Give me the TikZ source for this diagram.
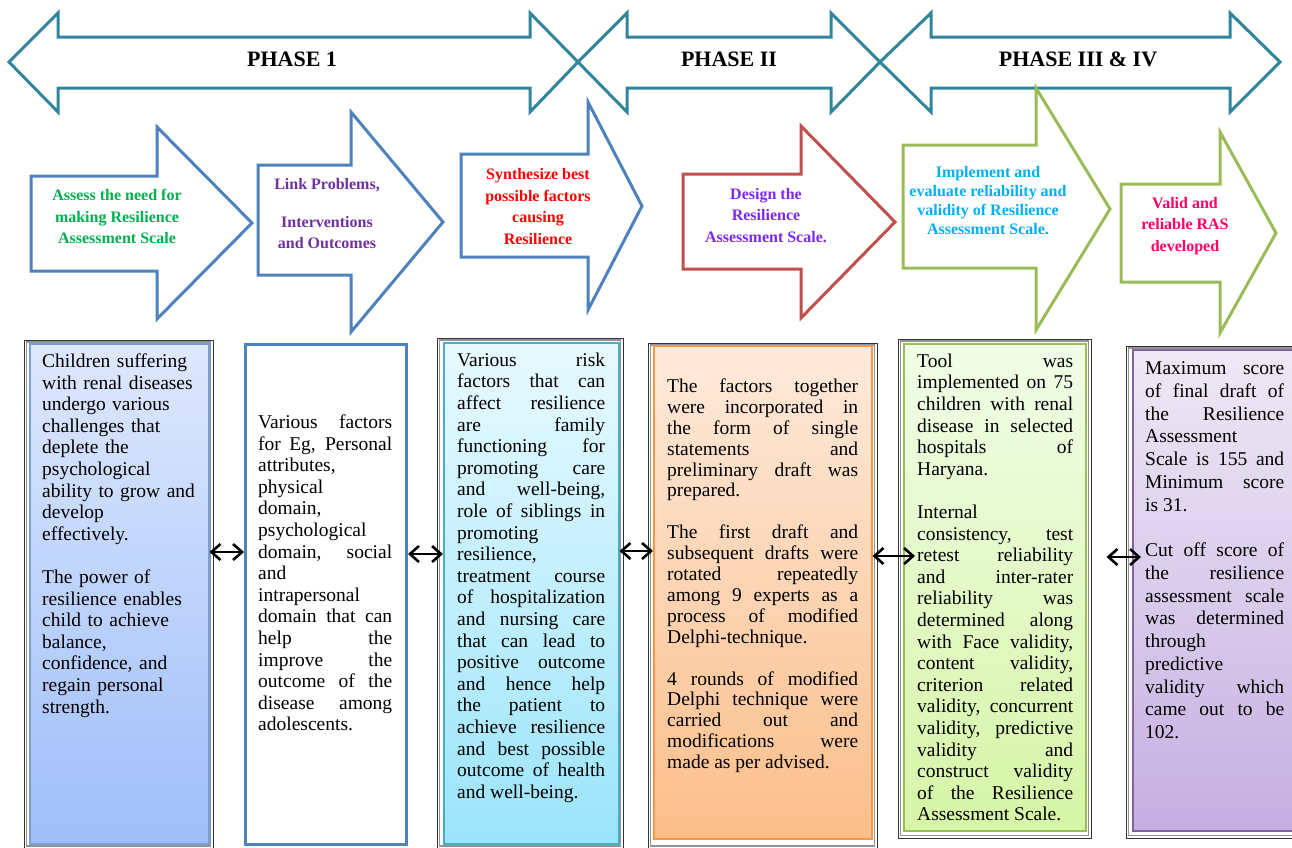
\documentclass[tikz,border=0pt]{standalone}
\usepackage{fontspec}
\setmainfont{Liberation Serif}
\usetikzlibrary{arrows.meta}
\definecolor{phaseteal}{RGB}{49,133,155}
\definecolor{chevblue}{RGB}{79,129,189}
\definecolor{chevred}{RGB}{192,80,77}
\definecolor{chevgreen}{RGB}{155,187,89}
\definecolor{txtgreen}{RGB}{0,176,80}
\definecolor{txtpurple}{RGB}{112,48,160}
\definecolor{txtred}{RGB}{255,0,0}
\definecolor{txtviolet}{RGB}{125,40,250}
\definecolor{txtcyan}{RGB}{0,176,240}
\definecolor{txtpink}{RGB}{255,0,102}
\tolerance=10000
\hyphenpenalty=10000
\exhyphenpenalty=10000
\tikzset{
	>={Straight Barb[length=9pt,width=16pt]},
	phase/.style={draw=phaseteal, line width=3pt, line join=miter},
	phasetext/.style={font=\fontsize{22}{26}\selectfont\bfseries, inner sep=0pt},
	chevron/.style={line width=3pt, fill=white, line join=miter},
	chevtext/.style={
		font=\fontsize{16}{21.5}\selectfont\bfseries,
		align=center,
		inner sep=0pt},
	boxframe/.style={draw=black!80, line width=0.8pt},
	boxinset/.style={draw=gray!85, line width=1.6pt},
	panel/.style={anchor=north west, inner sep=0pt, line width=1.5pt},
	paneltext/.style={
		anchor=north west,
		inner sep=0pt,
		align=justify,
		font=\fontsize{19.5}{21.6}\selectfont},
	dblarrow/.style={<->, line width=2.6pt},
}

\begin{document}
\begin{tikzpicture}[x=1pt, y=-1pt]
\useasboundingbox (0,0) rectangle (1292,847);

% phases
\draw[phase] (9,62) -- (58,13) -- (58,37) -- (530,37) -- (530,13) -- (578,62)
	-- (530,112) -- (530,88) -- (58,88) -- (58,112) -- cycle;
\draw[phase] (578,62) -- (627,13) -- (627,37) -- (831,37) -- (831,13) -- (880,62)
	-- (831,112) -- (831,88) -- (627,88) -- (627,112) -- cycle;
\draw[phase] (880,62) -- (931,13) -- (931,37) -- (1230,37) -- (1230,13) -- (1280,62)
	-- (1230,112) -- (1230,88) -- (931,88) -- (931,112) -- cycle;
\node[phasetext] (phaseone) at (292,59) {PHASE 1};
\node[phasetext] (phasetwo) at (729,59) {PHASE II};
\node[phasetext] (phasethree) at (1078,59) {PHASE III \& IV};

% steps
\draw[chevron, draw=chevblue] (31,176) -- (157,176) -- (157,127) -- (252,223)
	-- (157,319) -- (157,271) -- (31,271) -- cycle;
\draw[chevron, draw=chevblue] (258,165) -- (351,165) -- (351,112) -- (443,222)
	-- (351,332) -- (351,275) -- (258,275) -- cycle;
\draw[chevron, draw=chevblue] (461,154) -- (588,154) -- (588,102) -- (642,206)
	-- (588,310) -- (588,257) -- (461,257) -- cycle;
\draw[chevron, draw=chevred] (683,174) -- (801,174) -- (801,126) -- (895,222)
	-- (801,318) -- (801,269) -- (683,269) -- cycle;
\draw[chevron, draw=chevgreen] (903,145) -- (1036,145) -- (1036,88) -- (1110,209)
	-- (1036,330) -- (1036,268) -- (903,268) -- cycle;
\draw[chevron, draw=chevgreen] (1121,184) -- (1220,184) -- (1220,132) -- (1276,233)
	-- (1220,333) -- (1220,282) -- (1121,282) -- cycle;

\node[chevtext, text=txtgreen] (need) at (117,216.5)
	{Assess the need for\\making Resilience\\Assessment Scale};
\node[chevtext, text=txtpurple] (link) at (327,214)
	{Link Problems,\\[16pt]Interventions\\and Outcomes};
\node[chevtext, text=txtred] (synth) at (538,206.5)
	{Synthesize best\\possible factors\\causing\\Resilience};
\node[chevtext, text=txtviolet] (design) at (766,215.5)
	{Design the\\Resilience\\Assessment Scale.};
\node[chevtext, text=txtcyan, font=\fontsize{16}{19}\selectfont\bfseries] (implement) at (988,200.5)
	{Implement and\\evaluate reliability and\\validity of Resilience\\Assessment Scale.};
\node[chevtext, text=txtpink] (valid) at (1185,226)
	{Valid and\\reliable RAS\\developed};

% frames
\draw[boxframe] (24,340) rectangle (213,849);
\draw[boxinset] (26.5,342) rectangle (210.5,846);
\draw[boxframe] (437,338) rectangle (623,849);
\draw[boxinset] (439.5,340) rectangle (620.5,846);
\draw[boxframe] (648,343) rectangle (877,849);
\draw[boxinset] (650.5,345) rectangle (874.5,846);
\draw[boxframe] (898,339) rectangle (1091,838);
\draw[boxinset] (900.5,341) rectangle (1088.5,835.5);
\draw[boxframe] (1126,346) rectangle (1298,838);
\draw[boxinset] (1128.5,348) rectangle (1298,835.5);

% panels
\node[panel, draw={rgb,255:red,120;green,160;blue,215}, top color={rgb,255:red,222;green,232;blue,253},
	bottom color={rgb,255:red,158;green,190;blue,249},
	minimum width=179pt, minimum height=500pt] (children) at (29,343) {};
\node[panel, draw=chevblue, fill=white, line width=3pt,
	minimum width=161pt, minimum height=500pt] (factors) at (244,343) {};
\node[panel, draw={rgb,255:red,75;green,172;blue,198}, top color={rgb,255:red,232;green,250;blue,255},
	bottom color={rgb,255:red,155;green,228;blue,250},
	minimum width=175pt, minimum height=501pt] (risk) at (443,342) {};
\node[panel, draw={rgb,255:red,247;green,150;blue,70}, top color={rgb,255:red,253;green,234;blue,219},
	bottom color={rgb,255:red,251;green,190;blue,138},
	minimum width=218pt, minimum height=493pt] (delphi) at (653,345) {};
\node[panel, draw=chevgreen, top color={rgb,255:red,241;green,253;blue,231},
	bottom color={rgb,255:red,213;green,245;blue,166},
	minimum width=182pt, minimum height=487pt] (tool) at (903,343) {};
\node[panel, draw={rgb,255:red,128;green,100;blue,162}, top color={rgb,255:red,238;green,233;blue,245},
	bottom color={rgb,255:red,197;green,174;blue,225},
	minimum width=164pt, minimum height=481pt] (score) at (1132,349) {};

% texts
\node[paneltext, align=left, text width=162pt] (childrentext) at (42,353.5) {%
Children suffering\\
with renal diseases\\
undergo various\\
challenges that\\
deplete the\\
psychological\\
ability to grow and\\
develop\\
effectively.\\[21.6pt]
The power of\\
resilience enables\\
child to achieve\\
balance,\\
confidence, and\\
regain personal\\
strength.};

\node[paneltext, text width=134pt] (factorstext) at (258,414.5) {%
Various factors\linebreak
for Eg, Personal\linebreak
attributes,\\
physical\\
domain,\\
psychological\\
domain, social\linebreak
and\\
intrapersonal\\
domain that can\linebreak
help the\linebreak
improve the\linebreak
outcome of the\linebreak
disease among\linebreak
adolescents.};

\node[paneltext, text width=148pt] (risktext) at (457,352.5) {%
Various risk\linebreak
factors that can\linebreak
affect resilience\linebreak
are family\linebreak
functioning for\linebreak
promoting care\linebreak
and well-being,\linebreak
role of siblings in\linebreak
promoting\\
resilience,\\
treatment course\linebreak
of hospitalization\linebreak
and nursing care\linebreak
that can lead to\linebreak
positive outcome\linebreak
and hence help\linebreak
the patient to\linebreak
achieve resilience\linebreak
and best possible\linebreak
outcome of health\linebreak
and well-being.};

\node[paneltext, text width=191pt, font=\fontsize{19.5}{20.9}\selectfont]
	(delphitext) at (667,378.5) {%
The factors together\linebreak
were incorporated in\linebreak
the form of single\linebreak
statements and\linebreak
preliminary draft was\linebreak
prepared.\\[20.9pt]
The first draft and\linebreak
subsequent drafts were\linebreak
rotated repeatedly\linebreak
among 9 experts as a\linebreak
process of modified\linebreak
Delphi-technique.\\[20.9pt]
4 rounds of modified\linebreak
Delphi technique were\linebreak
carried out and\linebreak
modifications were\linebreak
made as per advised.};

\node[paneltext, text width=156pt] (tooltext) at (917,353.5) {%
Tool was\linebreak
implemented on 75\linebreak
children with renal\linebreak
disease in selected\linebreak
hospitals of\linebreak
Haryana.\\[21.6pt]
Internal\\
consistency, test\linebreak
retest reliability\linebreak
and inter-rater\linebreak
reliability was\linebreak
determined along\linebreak
with Face validity,\linebreak
content validity,\linebreak
criterion related\linebreak
validity, concurrent\linebreak
validity, predictive\linebreak
validity and\linebreak
construct validity\linebreak
of the Resilience\linebreak
Assessment Scale.};

\node[paneltext, text width=139pt, font=\fontsize{19.5}{22.75}\selectfont]
	(scoretext) at (1145,361.5) {%
Maximum score\linebreak
of final draft of\linebreak
the Resilience\linebreak
Assessment\\
Scale is 155 and\linebreak
Minimum score\linebreak
is 31.\\[22.75pt]
Cut off score of\linebreak
the resilience\linebreak
assessment scale\linebreak
was determined\linebreak
through\\
predictive\\
validity which\linebreak
came out to be\linebreak
102.};

% links
\draw[dblarrow] (children.east |- 0,552) -- (factors.west |- 0,552);
\draw[dblarrow] (factors.east |- 0,554) -- (risk.west |- 0,554);
\draw[dblarrow] (risk.east |- 0,551) -- (delphi.west |- 0,551);
\draw[dblarrow, shorten >=-12pt] (delphi.east |- 0,556) -- (tool.west |- 0,556);
\draw[dblarrow, shorten <=20pt, shorten >=-9pt] (tool.east |- 0,557) -- (score.west |- 0,557);
\end{tikzpicture}
\end{document}
